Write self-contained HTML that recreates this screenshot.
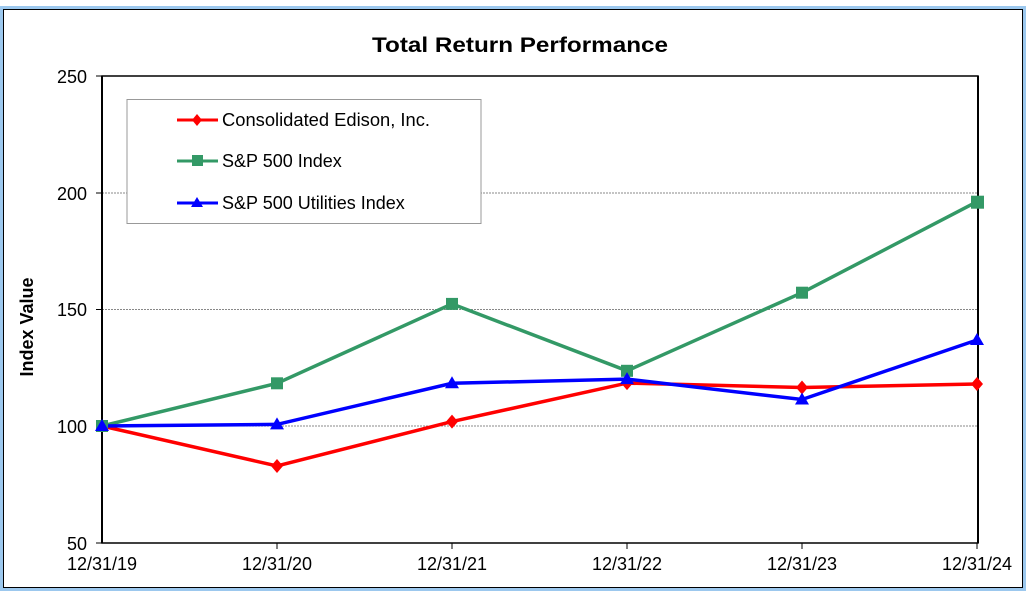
<!DOCTYPE html><html><head><style>body{margin:0;background:#fff}svg{display:block}text{font-family:"Liberation Sans",Arial,sans-serif}</style></head><body>
<svg width="1027" height="598" viewBox="0 0 1027 598">
<rect x="0" y="0" width="1027" height="598" fill="#fff"/>
<rect x="1.5" y="7.5" width="1023" height="582" fill="none" stroke="#9cc8ee" stroke-width="3"/>
<rect x="3.5" y="9.5" width="1019" height="578" fill="none" stroke="#000" stroke-width="1"/>
<text x="520" y="52" font-size="21" font-weight="bold" text-anchor="middle" textLength="296" lengthAdjust="spacingAndGlyphs">Total Return Performance</text>
<g stroke="#888" stroke-width="1" stroke-dasharray="2,1">
<line x1="102" y1="193" x2="977" y2="193"/><line x1="102" y1="309.5" x2="977" y2="309.5"/><line x1="102" y1="426" x2="977" y2="426"/></g>
<rect x="102" y="76" width="876" height="467" fill="none" stroke="#000" stroke-width="1.5"/>
<line x1="102" y1="76" x2="102" y2="543" stroke="#000" stroke-width="2"/>
<line x1="978" y1="76" x2="978" y2="543" stroke="#000" stroke-width="2"/>
<g stroke="#000" stroke-width="1"><line x1="96" y1="76" x2="102" y2="76"/><line x1="96" y1="193" x2="102" y2="193"/><line x1="96" y1="309.5" x2="102" y2="309.5"/><line x1="96" y1="426" x2="102" y2="426"/><line x1="96" y1="543" x2="102" y2="543"/>
<line x1="277" y1="543" x2="277" y2="549"/><line x1="452" y1="543" x2="452" y2="549"/><line x1="627" y1="543" x2="627" y2="549"/><line x1="802" y1="543" x2="802" y2="549"/><line x1="977" y1="543" x2="977" y2="549"/></g>
<g font-size="18" text-anchor="end"><text x="87" y="83">250</text><text x="87" y="200">200</text><text x="87" y="316">150</text><text x="87" y="433">100</text><text x="87" y="550">50</text></g>
<g font-size="18" text-anchor="middle"><text x="102" y="570">12/31/19</text><text x="277" y="570">12/31/20</text><text x="452" y="570">12/31/21</text><text x="627" y="570">12/31/22</text><text x="802" y="570">12/31/23</text><text x="977" y="570">12/31/24</text></g>
<text transform="translate(33,327) rotate(-90)" font-size="18" font-weight="bold" text-anchor="middle">Index Value</text>
<rect x="127" y="99.5" width="354" height="124" fill="#fff" stroke="#999" stroke-width="1"/>
<polyline points="102,426 277,383.3 452,303.9 627,370.8 802,292.7 977,201.7" fill="none" stroke="#339966" stroke-width="3.5"/>
<polyline points="102,426 277,466 452,421.6 627,383.1 802,387.5 977,384" fill="none" stroke="#ff0000" stroke-width="3.5"/>
<polyline points="102,426 277,424.4 452,383.3 627,379.1 802,399.5 977,340" fill="none" stroke="#0000ff" stroke-width="3.5"/>
<g fill="#339966"><rect x="96" y="420" width="12" height="12"/><rect x="271" y="377.3" width="12" height="12"/><rect x="446" y="297.9" width="12" height="12"/><rect x="621" y="364.8" width="12" height="12"/><rect x="796" y="286.7" width="12" height="12"/><rect x="971" y="195.7" width="13" height="13"/></g>
<g fill="#ff0000"><path d="M277,459 l6,7 -6,7 -6,-7z"/><path d="M452,414.6 l6,7 -6,7 -6,-7z"/><path d="M627,376.1 l6,7 -6,7 -6,-7z"/><path d="M802,380.5 l6,7 -6,7 -6,-7z"/><path d="M977,377 l6,7 -6,7 -6,-7z"/></g>
<g fill="#0000ff"><path d="M102,419 l7,12 h-14z"/><path d="M277,417.4 l7,12 h-14z"/><path d="M452,376.3 l7,12 h-14z"/><path d="M627,372.1 l7,12 h-14z"/><path d="M802,392.5 l7,12 h-14z"/><path d="M977,333 l7,12 h-14z"/></g>
<line x1="177" y1="120" x2="218" y2="120" stroke="#ff0000" stroke-width="3"/><path d="M197,114 l5,6 -5,6 -5,-6z" fill="#ff0000"/>
<line x1="177" y1="161" x2="218" y2="161" stroke="#339966" stroke-width="3"/><rect x="192" y="155" width="11" height="11" fill="#339966"/>
<line x1="177" y1="203" x2="218" y2="203" stroke="#0000ff" stroke-width="3"/><path d="M197,197 l6,10 h-12z" fill="#0000ff"/>
<g font-size="18"><text x="222" y="126" textLength="208" lengthAdjust="spacingAndGlyphs">Consolidated Edison, Inc.</text><text x="222" y="167">S&amp;P 500 Index</text><text x="222" y="209">S&amp;P 500 Utilities Index</text></g>
</svg></body></html>
